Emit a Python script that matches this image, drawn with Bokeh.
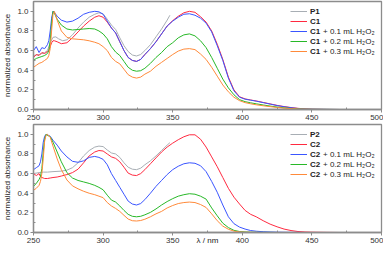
from bokeh.plotting import figure
from bokeh.layouts import column
from bokeh.models import Range1d, FixedTicker, PrintfTickFormatter, Legend, LegendItem, Label
from bokeh.embed import file_html
from bokeh.resources import INLINE

FONT = "Liberation Sans"

# ---------------- data: top panel (P1 / C1) ----------------
wl_top = [250, 252, 254, 256, 258, 260, 261, 262, 263, 264,
          265, 267, 270, 274, 278, 282, 286, 290, 294, 297,
          300, 303, 306, 309, 312, 315, 318, 321, 324, 327,
          330, 334, 338, 342, 346, 350, 354, 358, 362, 366,
          370, 374, 378, 382, 386, 390, 394, 398, 402, 406,
          410, 415, 420, 425, 430, 435, 440, 445, 450, 460,
          470, 480, 490, 500]

wl_p1 = [250, 254, 258, 260, 262, 264, 266, 268, 271, 274, 278, 282, 286, 290, 294, 297,
         300, 303, 306, 309, 312, 315, 318, 321, 324, 327, 330, 334, 338, 342, 346, 348]
p1 = [0.55, 0.56, 0.58, 0.60, 0.68, 0.735, 0.74, 0.72, 0.70, 0.71, 0.76, 0.83, 0.89, 0.94, 0.97, 0.985,
      0.975, 0.92, 0.86, 0.815, 0.73, 0.65, 0.59, 0.555, 0.545, 0.56, 0.60, 0.66, 0.74, 0.82, 0.91, 0.96]

c1 = [0.53, 0.56, 0.55, 0.58, 0.57, 0.59, 0.60, 0.64, 0.68, 0.70,
      0.70, 0.69, 0.67, 0.68, 0.73, 0.79, 0.85, 0.90, 0.94, 0.955,
      0.94, 0.89, 0.83, 0.78, 0.69, 0.60, 0.53, 0.50, 0.49, 0.51,
      0.56, 0.62, 0.69, 0.77, 0.85, 0.905, 0.95, 0.985, 1.00, 0.99,
      0.945, 0.89, 0.80, 0.665, 0.51, 0.33, 0.20, 0.13, 0.108, 0.097,
      0.087, 0.072, 0.057, 0.042, 0.030, 0.020, 0.012, 0.006, 0.003, 0.001,
      0.0, 0.0, 0.0, 0.0]

c1_01 = [0.60, 0.64, 0.58, 0.63, 0.62, 0.66, 0.70, 0.80, 0.93, 1.00,
         0.99, 0.95, 0.91, 0.89, 0.90, 0.93, 0.97, 0.99, 1.00, 0.995,
         0.97, 0.90, 0.83, 0.78, 0.69, 0.60, 0.53, 0.50, 0.49, 0.51,
         0.56, 0.62, 0.69, 0.77, 0.85, 0.90, 0.94, 0.97, 0.975, 0.96,
         0.93, 0.88, 0.79, 0.65, 0.50, 0.32, 0.19, 0.125, 0.105, 0.095,
         0.085, 0.07, 0.055, 0.04, 0.028, 0.018, 0.01, 0.005, 0.003, 0.001,
         0.0, 0.0, 0.0, 0.0]

c1_02 = [0.50, 0.52, 0.53, 0.54, 0.55, 0.57, 0.60, 0.70, 0.88, 1.00,
         0.98, 0.92, 0.86, 0.82, 0.81, 0.815, 0.82, 0.825, 0.82, 0.80,
         0.77, 0.72, 0.64, 0.585, 0.55, 0.49, 0.43, 0.40, 0.39, 0.395,
         0.42, 0.47, 0.53, 0.58, 0.64, 0.68, 0.73, 0.76, 0.77, 0.75,
         0.70, 0.63, 0.53, 0.42, 0.31, 0.22, 0.15, 0.10, 0.08, 0.068,
         0.058, 0.046, 0.035, 0.025, 0.017, 0.011, 0.006, 0.003, 0.002, 0.001,
         0.0, 0.0, 0.0, 0.0]

c1_03 = [0.43, 0.45, 0.47, 0.48, 0.50, 0.52, 0.55, 0.62, 0.80, 0.97,
         1.00, 0.91, 0.80, 0.735, 0.72, 0.715, 0.71, 0.70, 0.685, 0.67,
         0.64, 0.60, 0.53, 0.49, 0.465, 0.41, 0.355, 0.33, 0.32, 0.33,
         0.36, 0.39, 0.44, 0.48, 0.52, 0.56, 0.595, 0.615, 0.62, 0.61,
         0.565, 0.51, 0.43, 0.34, 0.25, 0.18, 0.125, 0.09, 0.07, 0.058,
         0.048, 0.038, 0.029, 0.021, 0.014, 0.009, 0.005, 0.003, 0.001, 0.0,
         0.0, 0.0, 0.0, 0.0]

# ---------------- data: bottom panel (P2 / C2) ----------------
wl_bot = [250, 252, 254, 255, 256, 257, 258, 259, 260, 262,
          264, 267, 270, 274, 278, 282, 286, 290, 294, 297,
          300, 303, 306, 309, 312, 315, 318, 321, 324, 327,
          330, 334, 338, 342, 346, 350, 354, 358, 362, 366,
          370, 374, 378, 382, 386, 390, 394, 398, 402, 406,
          410, 415, 420, 425, 430, 435, 440, 445, 450, 460,
          470, 480, 490, 500]

wl_p2 = [250, 254, 257, 260, 264, 270, 274, 278, 282, 286, 290, 294, 297, 300, 303, 306, 309,
         312, 315, 318, 321, 324, 327, 330, 334, 338, 342, 346, 348]
p2 = [0.60, 0.61, 0.615, 0.615, 0.62, 0.625, 0.635, 0.66, 0.71, 0.78, 0.835, 0.87, 0.88, 0.875, 0.84, 0.81, 0.80,
      0.765, 0.71, 0.665, 0.645, 0.64, 0.655, 0.69, 0.73, 0.78, 0.835, 0.89, 0.915]

c2 = [0.60, 0.58, 0.60, 0.57, 0.56, 0.555, 0.55, 0.55, 0.55, 0.555,
      0.56, 0.565, 0.575, 0.59, 0.61, 0.645, 0.71, 0.78, 0.82, 0.835,
      0.83, 0.80, 0.77, 0.755, 0.72, 0.665, 0.605, 0.585, 0.58, 0.60,
      0.64, 0.70, 0.76, 0.82, 0.87, 0.91, 0.945, 0.975, 0.995, 0.995,
      0.95, 0.87, 0.77, 0.67, 0.56, 0.45, 0.36, 0.29, 0.225, 0.185,
      0.16, 0.12, 0.085, 0.058, 0.035, 0.02, 0.01, 0.005, 0.003, 0.001,
      0.0, 0.0, 0.0, 0.0]

c2_01 = [0.64, 0.66, 0.68, 0.72, 0.80, 0.92, 0.98, 1.00, 0.995, 0.98,
         0.94, 0.89, 0.83, 0.77, 0.725, 0.715, 0.73, 0.765, 0.775, 0.765,
         0.745, 0.69, 0.60, 0.53, 0.46, 0.39, 0.32, 0.29, 0.28, 0.295,
         0.335, 0.40, 0.47, 0.53, 0.59, 0.64, 0.675, 0.70, 0.71, 0.705,
         0.68, 0.62, 0.52, 0.41, 0.28, 0.16, 0.09, 0.055, 0.035, 0.02,
         0.013, 0.008, 0.005, 0.003, 0.002, 0.001, 0.001, 0.0, 0.0, 0.0,
         0.0, 0.0, 0.0, 0.0]

c2_02 = [0.47, 0.50, 0.54, 0.57, 0.65, 0.82, 0.95, 1.00, 0.99, 0.975,
         0.92, 0.82, 0.72, 0.61, 0.555, 0.53, 0.515, 0.50, 0.48, 0.46,
         0.435, 0.38, 0.33, 0.31, 0.27, 0.225, 0.185, 0.165, 0.16, 0.165,
         0.18, 0.205, 0.24, 0.28, 0.315, 0.345, 0.37, 0.385, 0.395, 0.39,
         0.37, 0.34, 0.25, 0.17, 0.095, 0.05, 0.022, 0.01, 0.005, 0.003,
         0.002, 0.001, 0.001, 0.0, 0.0, 0.0, 0.0, 0.0, 0.0, 0.0,
         0.0, 0.0, 0.0, 0.0]

c2_03 = [0.43, 0.45, 0.48, 0.52, 0.60, 0.75, 0.93, 0.99, 1.00, 0.97,
         0.88, 0.75, 0.64, 0.535, 0.475, 0.445, 0.42, 0.40, 0.385, 0.37,
         0.355, 0.305, 0.27, 0.245, 0.215, 0.175, 0.137, 0.12, 0.117, 0.122,
         0.135, 0.16, 0.19, 0.215, 0.25, 0.275, 0.295, 0.305, 0.31, 0.305,
         0.285, 0.255, 0.19, 0.12, 0.065, 0.033, 0.014, 0.006, 0.003, 0.002,
         0.001, 0.0, 0.0, 0.0, 0.0, 0.0, 0.0, 0.0, 0.0, 0.0,
         0.0, 0.0, 0.0, 0.0]

# ---------------- labels / ticks ----------------
x_ticks = [250, 300, 350, 400, 450, 500]
x_minor = [275, 325, 375, 425, 475]
y_ticks = [0.0, 0.2, 0.4, 0.6, 0.8, 1.0]
y_minor = [0.1, 0.3, 0.5, 0.7, 0.9]

top_names = ["P1", "C1", "C1", "C1", "C1"]
bot_names = ["P2", "C2", "C2", "C2", "C2"]
suffixes = ["", "", "+ 0.1 mL H\u2082O\u2082", "+ 0.2 mL H\u2082O\u2082", "+ 0.3 mL H\u2082O\u2082"]

colors = ["#a8aeb4", "#ff2a40", "#3a55ff", "#28b828", "#ff8a3a"]

FRAME_W = 348
FRAME_H = 108
LEG_X = 257
LEG_Y = FRAME_H - 55
BOLD_W = 10.2 + 2.3


def make_panel(wl, pwl, pvals, series, names, xlabel, top_border):
    p = figure(frame_width=FRAME_W, frame_height=FRAME_H, output_backend="svg",
               toolbar_location=None, x_range=Range1d(250, 500), y_range=Range1d(0, 1.1),
               min_border_left=0, min_border_right=2, min_border_top=top_border,
               min_border_bottom=0)
    p.background_fill_color = "white"
    p.border_fill_color = "white"
    p.outline_line_color = "#8c8c8c"
    p.outline_line_width = 1.3
    p.xgrid.visible = False
    p.ygrid.visible = False

    rs = [p.line(pwl, pvals, line_color=colors[0], line_width=1.0)]
    for s, c in zip(series, colors[1:]):
        rs.append(p.line(wl, s, line_color=c, line_width=1.0))

    for ax in (p.xaxis[0], p.yaxis[0]):
        ax.axis_line_color = "#8c8c8c"
        ax.axis_line_width = 1.3
        ax.major_tick_line_color = "#8c8c8c"
        ax.minor_tick_line_color = "#8c8c8c"
        ax.major_tick_out = 3
        ax.major_tick_in = 0
        ax.minor_tick_out = 0
        ax.minor_tick_in = 2
        ax.major_label_text_font = FONT
        ax.major_label_text_font_size = "8px"
        ax.major_label_text_color = "#333333"
        ax.major_label_standoff = 2
        ax.axis_label_text_font = FONT
        ax.axis_label_text_font_size = "8px"
        ax.axis_label_text_font_style = "normal"
        ax.axis_label_text_color = "#222222"

    p.xaxis.ticker = FixedTicker(ticks=x_ticks, minor_ticks=x_minor)
    p.yaxis.ticker = FixedTicker(ticks=y_ticks, minor_ticks=y_minor)
    p.yaxis.formatter = PrintfTickFormatter(format="%.1f")
    p.yaxis.axis_label = "normalized absorbance"
    p.yaxis.axis_label_standoff = 2
    if xlabel:
        p.xaxis.axis_label = xlabel
        p.xaxis.axis_label_standoff = -10

    items = [LegendItem(label=n, renderers=[r]) for n, r in zip(names, rs)]
    leg = Legend(items=items, location=(LEG_X, LEG_Y), label_text_font=FONT,
                 label_text_font_size="8px", label_text_font_style="bold",
                 label_text_color="#222222", glyph_width=17, glyph_height=10,
                 label_height=10, label_standoff=3, spacing=0, padding=0, margin=0,
                 border_line_alpha=0, background_fill_alpha=0)
    p.add_layout(leg)
    for i, sfx in enumerate(suffixes):
        if sfx:
            p.add_layout(Label(x=LEG_X + 17 + 3 + BOLD_W, y=LEG_Y + 45 - 10 * i,
                               x_units="screen", y_units="screen", text=sfx,
                               text_font=FONT, text_font_size="8px",
                               text_color="#222222", text_baseline="middle"))
    return p


top = make_panel(wl_top, wl_p1, p1, [c1, c1_01, c1_02, c1_03], top_names, None, 1)
bot = make_panel(wl_bot, wl_p2, p2, [c2, c2_01, c2_02, c2_03], bot_names, "\u03bb / nm", 2)

layout = column(top, bot, spacing=0)
open("out.html", "w").write(file_html(layout, INLINE))
